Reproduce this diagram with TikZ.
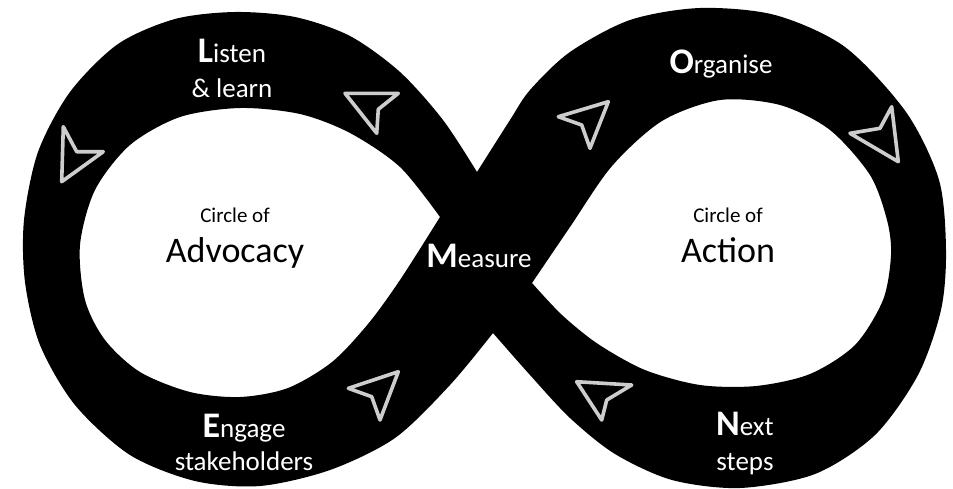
\documentclass[tikz,border=0pt]{standalone}
\usepackage{fontspec}
\setmainfont{Carlito}
\definecolor{navgray}{RGB}{205,205,205}
\newcommand\bigini[1]{{\fontsize{36}{36}\selectfont\bfseries #1}}
\begin{document}
\begin{tikzpicture}[x=1pt,y=-1pt,
  band/.style={fill=black, even odd rule},
  navarrow/.style={draw=navgray, line width=3.6pt, line join=round},
  ontext/.style={text=white, font=\fontsize{27}{30}\selectfont, inner sep=0pt, anchor=base},
  smalltext/.style={text=black, font=\fontsize{21}{24}\selectfont, inner sep=0pt, anchor=base},
  bigtext/.style={text=black, font=\fontsize{36}{40}\selectfont, inner sep=0pt, anchor=base}
]
\useasboundingbox (0,0) rectangle (953,488);
\fill[white] (0,0) rectangle (953,488);

% the band: outer boundary with two holes
\fill[band]
  % outer: left lobe from top notch to bottom notch
  (477,172) -- plot[smooth] coordinates {(477,172) (443,120) (400,72) (350,36) (295,17) (235,12) (175,19) (118,44) (70,92) (38,152) (24,220) (25,282) (40,345) (75,405) (130,455) (195,481) (260,486) (330,470) (395,438) (450,385) (493,333)}
  % outer: right lobe from bottom notch back to top notch
  -- plot[smooth] coordinates {(493,333) (530,375) (570,418) (615,454) (672,480) (740,488) (815,474) (875,435) (918,375) (941,310) (946,250) (939,180) (906,112) (845,47) (775,15) (700,8) (630,20) (570,52) (530,90) (510,120) (477,172)}
  -- cycle
  % left hole
  (440,217) -- plot[smooth] coordinates {(440,217) (400,167) (350,133) (300,114) (240,108) (180,117) (130,145) (95,190) (80,245) (85,300) (105,340) (140,372) (190,392) (240,397) (288,388) (332,362) (368,324) (400,280) (440,217)} -- cycle
  % right hole
  (532,283) -- plot[smooth] coordinates {(532,283) (570,227) (612,166) (662,121) (720,100) (780,105) (830,130) (870,175) (887,220) (891,255) (883,300) (855,345) (810,374) (756,386) (700,385) (645,370) (598,344) (562,315) (532,283)} -- cycle;

% navigation arrows
\draw[navarrow] (63.3,126.7) -- (76.7,151.7) -- (103.3,151.7) -- (61.7,181.7) -- cycle;
\draw[navarrow] (345,93.3) -- (398.3,93.3) -- (378.3,109.3) -- (376.7,133.3) -- cycle;
\draw[navarrow] (558.3,116.7) -- (608.3,101.7) -- (590,148.3) -- (581.7,125) -- cycle;
\draw[navarrow] (891.7,106.7) -- (898.3,161.7) -- (850,133.3) -- (880,128.3) -- cycle;
\draw[navarrow] (348.3,388.3) -- (398.3,371.7) -- (380,420) -- (371.7,396.7) -- cycle;
\draw[navarrow] (576.7,381.7) -- (631.7,385) -- (606.7,400) -- (601.7,420) -- cycle;

% texts on the band
\node[ontext] (listen) at (232,62) {\bigini{L}isten};
\node[ontext] (learn) at (232,97) {\& learn};
\node[ontext] (organise) at (721,73) {\bigini{O}rganise};
\node[ontext] (measure) at (479,267) {\bigini{M}easure};
\node[ontext] (engage) at (244,437) {\bigini{E}ngage};
\node[ontext] (stake) at (244,470) {stakeholders};
\node[ontext] (next) at (745,435) {\bigini{N}ext};
\node[ontext] (steps) at (745,470) {steps};

% texts inside the holes
\node[smalltext] (circleL) at (235,222) {Circle of};
\node[bigtext] (advocacy) at (235,262) {Advocacy};
\node[smalltext] (circleR) at (728,222) {Circle of};
\node[bigtext] (action) at (728,262) {Action};
\end{tikzpicture}
\end{document}
